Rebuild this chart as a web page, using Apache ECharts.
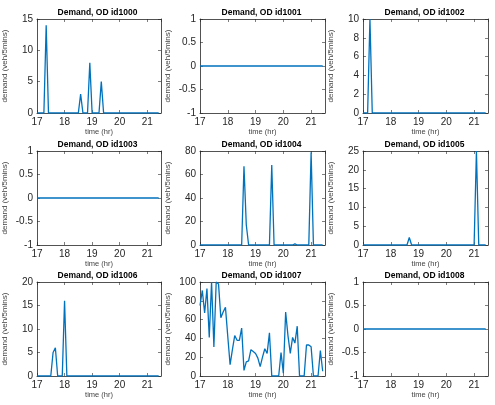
<!DOCTYPE html>
<html>
<head>
<meta charset="utf-8">
<script src="https://cdn.jsdelivr.net/npm/echarts@6/dist/echarts.min.js"></script>
<style>
  html, body { margin: 0; padding: 0; background: #fff; }
  #chart { width: 495px; height: 405px; }
</style>
</head>
<body>
<div id="chart"></div>
<script>
// demand per 5-minute slot, starting 17:00
const startHour = 17;
const stepMinutes = 5;

const odIds = ['id1000', 'id1001', 'id1002', 'id1003', 'id1004', 'id1005', 'id1006', 'id1007', 'id1008'];

const d1000 = [0,0,0,0,14,0,0,0,0,0,0,0, 0,0,0,0,0,0,0,3,0,0,0,8, 0,0,0,0,5,0,0,0,0,0,0,0, 0,0,0,0,0,0,0,0,0,0,0,0, 0,0,0,0,0,0];
const d1001 = [0,0,0,0,0,0,0,0,0,0,0,0, 0,0,0,0,0,0,0,0,0,0,0,0, 0,0,0,0,0,0,0,0,0,0,0,0, 0,0,0,0,0,0,0,0,0,0,0,0, 0,0,0,0,0,0];
const d1002 = [0,0,0,10,0,0,0,0,0,0,0,0, 0,0,0,0,0,0,0,0,0,0,0,0, 0,0,0,0,0,0,0,0,0,0,0,0, 0,0,0,0,0,0,0,0,0,0,0,0, 0,0,0,0,0,0];
const d1003 = [0,0,0,0,0,0,0,0,0,0,0,0, 0,0,0,0,0,0,0,0,0,0,0,0, 0,0,0,0,0,0,0,0,0,0,0,0, 0,0,0,0,0,0,0,0,0,0,0,0, 0,0,0,0,0,0];
const d1004 = [0,0,0,0,0,0,0,0,0,0,0,0, 0,0,0,0,0,0,0,67,17,0,0,0, 0,0,0,0,0,0,0,68,0,0,0,0, 0,0,0,0,0,1,0,0,0,0,0,0, 79,0,0,0,0,0];
const d1005 = [0,0,0,0,0,0,0,0,0,0,0,0, 0,0,0,0,0,0,0,0,2,0,0,0, 0,0,0,0,0,0,0,0,0,0,0,0, 0,0,0,0,0,0,0,0,0,0,0,0, 0,25,0,0,0,0];
const d1006 = [0,0,0,0,0,0,0,5,6,0,0,0, 16,0,0,0,0,0,0,0,0,0,0,0, 0,0,0,0,0,0,0,0,0,0,0,0, 0,0,0,0,0,0,0,0,0,0,0,0, 0,0,0,0,0,0];
const d1007 = [75,91,67,93,41,100,31,100,98,62,68,73, 42,12,28,43,38,38,51,6,15,16,28,26, 24,19,10,20,29,24,46,0,0,0,0,25, 3,68,43,24,41,35,53,0,0,0,33,33, 31,0,0,0,27,5];
const d1008 = [0,0,0,0,0,0,0,0,0,0,0,0, 0,0,0,0,0,0,0,0,0,0,0,0, 0,0,0,0,0,0,0,0,0,0,0,0, 0,0,0,0,0,0,0,0,0,0,0,0, 0,0,0,0,0,0];

const demands = [d1000, d1001, d1002, d1003, d1004, d1005, d1006, d1007, d1008];

// y-axis ranges per panel
const yMins = [0, -1, 0, -1, 0, 0, 0, 0, -1];
const yMaxs = [15, 1, 10, 1, 80, 25, 20, 100, 1];
const yIntervals = [5, 0.5, 2, 0.5, 20, 5, 5, 20, 0.5];

const times = d1000.map((_, i) => startHour + i * stepMinutes / 60);

const colLefts = [36, 200, 363];
const rowTops = [19, 151, 282];
const plotW = 125;
const plotH = 94;

const ink = '#262626';
const font = 'Liberation Sans, Arial, Helvetica, sans-serif';

const chart = echarts.init(document.getElementById('chart'));

const titles = [];
const grid = [];
const xAxis = [];
const yAxis = [];
const series = [];

odIds.forEach((id, k) => {
  const left = colLefts[k % 3];
  const top = rowTops[Math.floor(k / 3)];
  grid.push({ left: left, top: top, width: plotW, height: plotH, containLabel: false });

  // panel title, centred just above the box
  titles.push({
    type: 'text',
    x: left + plotW / 2 - 1,
    y: top - 6,
    style: {
      text: 'Demand, OD ' + id,
      align: 'center',
      verticalAlign: 'middle',
      fill: '#000',
      font: 'bold 8.5px ' + font
    }
  });

  const tick = { show: true, inside: true, length: 3, lineStyle: { color: ink, width: 0.6 } };
  const line = { show: true, onZero: false, lineStyle: { color: ink, width: 0.8 } };

  xAxis.push({
    type: 'value', gridIndex: k, position: 'bottom',
    min: 17, max: 21.5, interval: 1,
    name: 'time (hr)', nameLocation: 'middle', nameGap: 15,
    nameTextStyle: { fontSize: 7.5, color: '#444', fontFamily: font },
    axisLine: line, axisTick: tick,
    axisLabel: { fontSize: 10, color: ink, margin: 4, fontFamily: font, showMaxLabel: false },
    splitLine: { show: false }
  });
  xAxis.push({
    type: 'value', gridIndex: k, position: 'top',
    min: 17, max: 21.5, interval: 1,
    axisLine: line, axisTick: tick, axisLabel: { show: false }, splitLine: { show: false }
  });
  yAxis.push({
    type: 'value', gridIndex: k, position: 'left',
    min: yMins[k], max: yMaxs[k], interval: yIntervals[k],
    name: 'demand (veh/5mins)', nameLocation: 'middle', nameGap: 28, nameRotate: 90,
    nameTextStyle: { fontSize: 8, color: '#444', fontFamily: font },
    axisLine: line, axisTick: tick,
    axisLabel: { fontSize: 10, color: ink, margin: 4, fontFamily: font },
    splitLine: { show: false }
  });
  yAxis.push({
    type: 'value', gridIndex: k, position: 'right',
    min: yMins[k], max: yMaxs[k], interval: yIntervals[k],
    axisLine: line, axisTick: tick, axisLabel: { show: false }, splitLine: { show: false }
  });

  series.push({
    type: 'line',
    xAxisIndex: 2 * k,
    yAxisIndex: 2 * k,
    data: demands[k].map((v, i) => [times[i], v]),
    showSymbol: false,
    clip: true,
    lineStyle: { color: '#0072BD', width: 1.3 }
  });
});

chart.setOption({
  animation: false,
  backgroundColor: '#fff',
  graphic: titles,
  grid: grid,
  xAxis: xAxis,
  yAxis: yAxis,
  series: series
});
</script>
</body>
</html>
